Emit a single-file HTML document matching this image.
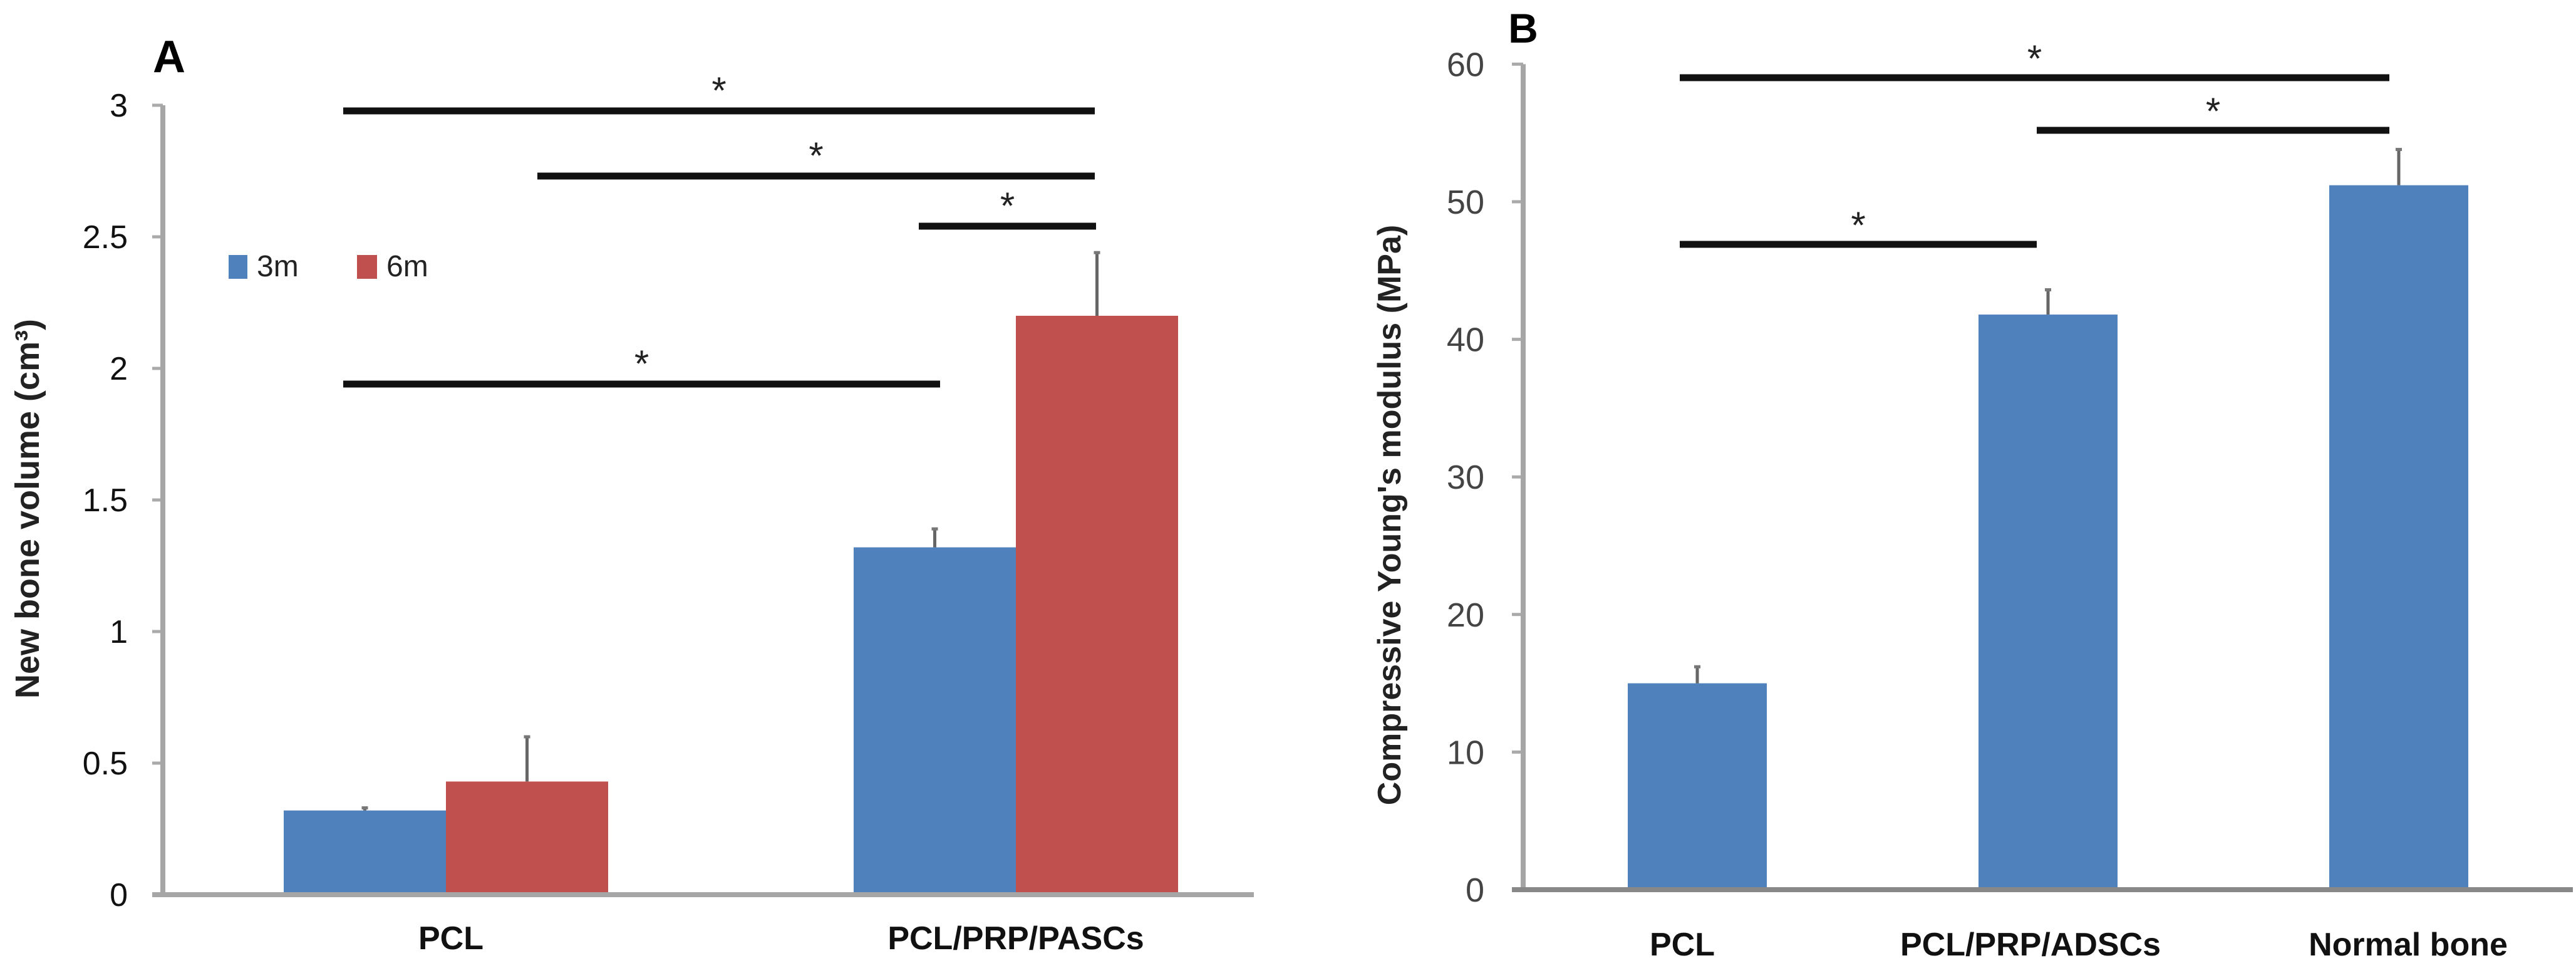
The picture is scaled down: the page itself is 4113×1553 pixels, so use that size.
<!DOCTYPE html>
<html><head><meta charset="utf-8"><style>
html,body{margin:0;padding:0;background:#fff;}
svg{display:block;font-family:"Liberation Sans",sans-serif;}
</style></head><body>
<svg id="chart" width="4113" height="1553" viewBox="0 0 4113 1553">
<text x="270" y="115" font-size="72" font-weight="bold" text-anchor="middle">A</text>
<text x="2432" y="68" font-size="66" font-weight="bold" text-anchor="middle">B</text>
<text transform="translate(62,812) rotate(-90)" font-size="54" font-weight="bold" fill="#222" text-anchor="middle">New bone volume (cm³)</text>
<text transform="translate(2236,822) rotate(-90)" font-size="52" font-weight="bold" fill="#222" text-anchor="middle">Compressive Young's modulus (MPa)</text>
<g>
<rect x="365" y="407" width="30" height="38" fill="#4F81BD"/>
<text x="410" y="441" font-size="48" fill="#222">3m</text>
<rect x="570" y="407" width="32" height="38" fill="#C0504D"/>
<text x="617" y="441" font-size="48" fill="#222">6m</text>
</g>
<g id="ga"></g><g id="gb"></g>
</svg>
<script>
// Panel A data
const aCategories = ["PCL", "PCL/PRP/PASCs"];
const a3m = [0.32, 1.32];
const a3mErr = [0.01, 0.07];
const a6m = [0.43, 2.2];
const a6mErr = [0.17, 0.24];
const aTicks = [0, 0.5, 1, 1.5, 2, 2.5, 3];
const aTickLabels = ["0", "0.5", "1", "1.5", "2", "2.5", "3"];
// Panel B data
const bCategories = ["PCL", "PCL/PRP/ADSCs", "Normal bone"];
const bValues = [15, 41.8, 51.2];
const bErr = [1.2, 1.8, 2.6];
const bTicks = [0, 10, 20, 30, 40, 50, 60];
const bTickLabels = ["0", "10", "20", "30", "40", "50", "60"];

const NS = "http://www.w3.org/2000/svg";
function mk(parent, tag, attrs, text) {
  const e = document.createElementNS(NS, tag);
  for (const k in attrs) e.setAttribute(k, attrs[k]);
  if (text !== undefined) e.textContent = text;
  parent.appendChild(e);
  return e;
}
// Panel A axes
const ay = v => 1428 - v * 420;
const aGroupCenter = i => 712 + i * 910;
const ga = document.getElementById("ga");
aTicks.forEach((t, i) => {
  const l = mk(ga, "line", {x1: 243, x2: 260, y1: ay(t), y2: ay(t), stroke: "#aaa", "stroke-width": 5});
  
  
  const tx = mk(ga, "text", {x: 204, y: ay(t) + 18, "font-size": 52, "text-anchor": "end", fill: "#111"}, aTickLabels[i]);
  
  
});
aCategories.forEach((c, i) => {
  const cx = aGroupCenter(i);
  const w = 259;
  [[a3m, a3mErr, "#4F81BD", "3m", cx - w], [a6m, a6mErr, "#C0504D", "6m", cx]].forEach(([vals, errs, col, nm, x]) => {
    const r = mk(ga, "rect", {x: x, y: ay(vals[i]), width: w, height: ay(0) - ay(vals[i]), fill: col});
    
    
    const ex = x + w / 2;
    const e = mk(ga, "line", {x1: ex, x2: ex, y1: ay(vals[i]), y2: ay(vals[i] + errs[i]), stroke: "#666", "stroke-width": 5});
    
    
    const cap = mk(ga, "line", {x1: ex - 5, x2: ex + 5, y1: ay(vals[i] + errs[i]), y2: ay(vals[i] + errs[i]), stroke: "#777", "stroke-width": 5});
    
    
  });
  const lb = mk(ga, "text", {x: cx + (i === 0 ? 8 : 0), y: 1515, "font-size": 52, "font-weight": "bold", "text-anchor": "middle", fill: "#111"}, c);
  
  
});
let ax = mk(ga, "line", {x1: 260, x2: 260, y1: ay(3), y2: ay(0), stroke: "#a6a6a6", "stroke-width": 8});


ax = mk(ga, "line", {x1: 243, x2: 2002, y1: ay(0), y2: ay(0), stroke: "#a6a6a6", "stroke-width": 8});



// significance lines (A): [x1, x2, y]
const aSig = [[548, 1748, 177], [858, 1748, 281], [1467, 1750, 361], [548, 1501, 613]];
aSig.forEach(s => {
  const l = mk(ga, "line", {x1: s[0], x2: s[1], y1: s[2], y2: s[2], stroke: "#111", "stroke-width": 11});
  
  
  const st = mk(ga, "text", {x: (s[0] + s[1]) / 2, y: s[2] - 12, "font-size": 60, "text-anchor": "middle", fill: "#222"}, "*");
  
  
});

// Panel B
const by = v => 1420 - v * 21.96;
const bCenter = i => 2710 + i * 560;
const bLabelOffset = [-24, -28, 15];
const gb = document.getElementById("gb");
bTicks.forEach((t, i) => {
  const l = mk(gb, "line", {x1: 2414, x2: 2432, y1: by(t), y2: by(t), stroke: "#aaa", "stroke-width": 5});
  
  
  const tx = mk(gb, "text", {x: 2370, y: by(t) + 19, "font-size": 54, "text-anchor": "end", fill: "#444"}, bTickLabels[i]);
  
  
});
bCategories.forEach((c, i) => {
  const cx = bCenter(i), w = 222;
  const r = mk(gb, "rect", {x: cx - w / 2, y: by(bValues[i]), width: w, height: by(0) - by(bValues[i]), fill: "#4F81BD"});
  
  
  const e = mk(gb, "line", {x1: cx, x2: cx, y1: by(bValues[i]), y2: by(bValues[i] + bErr[i]), stroke: "#666", "stroke-width": 5});
  
  
  const cap = mk(gb, "line", {x1: cx - 5, x2: cx + 5, y1: by(bValues[i] + bErr[i]), y2: by(bValues[i] + bErr[i]), stroke: "#777", "stroke-width": 5});
  
  
  const lb = mk(gb, "text", {x: cx + bLabelOffset[i], y: 1525, "font-size": 52, "font-weight": "bold", "text-anchor": "middle", fill: "#111"}, c);
  
  
});
ax = mk(gb, "line", {x1: 2432, x2: 2432, y1: by(60), y2: by(0), stroke: "#a6a6a6", "stroke-width": 8});


ax = mk(gb, "line", {x1: 2414, x2: 4108, y1: by(0), y2: by(0), stroke: "#888", "stroke-width": 8});


const bSig = [[2682, 3815, 124], [3252, 3815, 208], [2682, 3252, 390]];
bSig.forEach(s => {
  const l = mk(gb, "line", {x1: s[0], x2: s[1], y1: s[2], y2: s[2], stroke: "#111", "stroke-width": 11});
  
  
  const st = mk(gb, "text", {x: (s[0] + s[1]) / 2, y: s[2] - 10, "font-size": 60, "text-anchor": "middle", fill: "#222"}, "*");
  
  
});
</script>
</body></html>
